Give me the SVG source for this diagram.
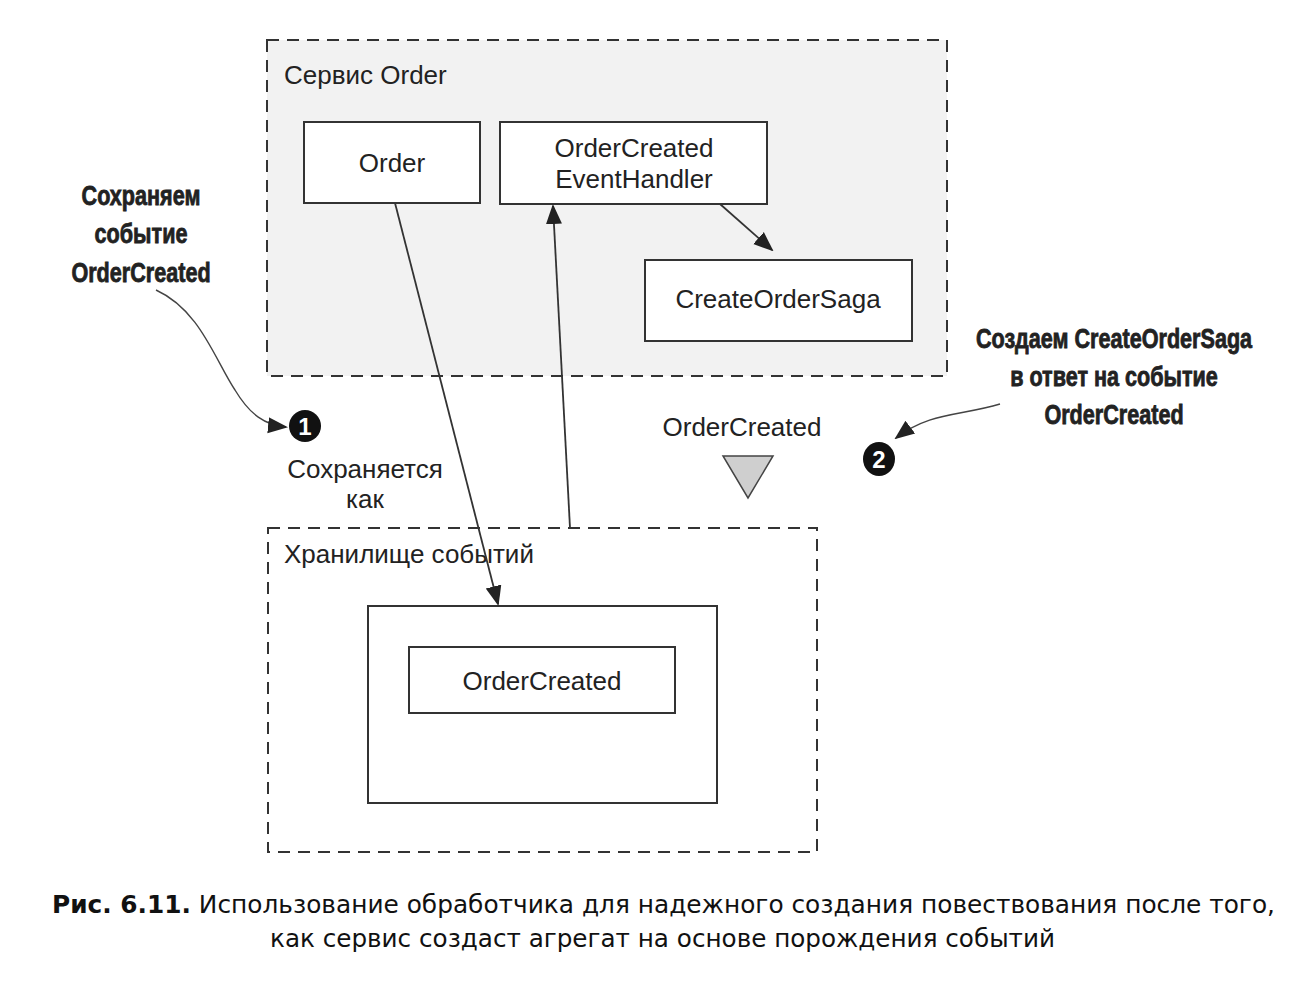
<svg xmlns="http://www.w3.org/2000/svg" width="1316" height="984" viewBox="0 0 1316 984">
<style>
.dash{stroke:#333;stroke-width:2;stroke-dasharray:12 8}
.nofill{fill:none}
.gray{fill:#f2f2f2}
.box{fill:#fff;stroke:#333;stroke-width:2}
.lbl{font-family:"Liberation Sans",Arial,sans-serif;font-size:26px;fill:#222}
.mid{text-anchor:middle}
.call{font-family:"Liberation Sans",Arial,sans-serif;font-weight:bold;font-size:27px;fill:#222;stroke:#222;stroke-width:0.8;text-anchor:middle}
.cap{font-family:"DejaVu Sans",Verdana,sans-serif;font-size:25px;fill:#111}
.conn{fill:none;stroke:#333;stroke-width:1.8}
.curve{fill:none;stroke:#444;stroke-width:1.4}
</style>
<defs>
<marker id="ah2" viewBox="0 0 10 10" refX="9" refY="5" markerWidth="20" markerHeight="20" markerUnits="userSpaceOnUse" orient="auto">
<path d="M0,1 L10,5 L0,9 z" fill="#222"/>
</marker>
</defs>
<rect width="1316" height="984" fill="#fff"/>

<g id="order-service">
<rect x="267" y="40" width="680" height="336" class="dash gray"/>
<text x="284" y="84" class="lbl">Сервис Order</text>
</g>
<g id="order">
<rect x="304" y="122" width="176" height="81" class="box"/>
<text x="392" y="172" class="lbl mid">Order</text>
</g>
<g id="event-handler">
<rect x="500" y="122" width="267" height="82" class="box"/>
<text x="634" y="157" class="lbl mid">OrderCreated</text>
<text x="634" y="188" class="lbl mid">EventHandler</text>
</g>
<g id="saga">
<rect x="645" y="260" width="267" height="81" class="box"/>
<text x="778" y="308" class="lbl mid">CreateOrderSaga</text>
</g>

<g id="event-store">
<rect x="268" y="528" width="549" height="324" class="dash nofill"/>
<text x="284" y="563" class="lbl">Хранилище событий</text>
<rect x="368" y="606" width="349" height="197" class="box"/>
</g>
<g id="stored-event">
<rect x="409" y="647" width="266" height="66" class="box"/>
<text x="542" y="690" class="lbl mid">OrderCreated</text>
</g>

<g id="event-flow">
<text x="742" y="436" class="lbl mid">OrderCreated</text>
<polygon points="723,456 773,456 748,498" fill="#cfcfcf" stroke="#444" stroke-width="1.5"/>
</g>

<g id="saved-as">
<text x="365" y="478" class="lbl mid">Сохраняется</text>
<text x="365" y="508" class="lbl mid">как</text>
</g>

<g id="badge1">
<circle cx="305" cy="426" r="16" fill="#111"/>
<text x="305" y="435" font-family="Liberation Sans,Arial,sans-serif" font-size="24" font-weight="bold" fill="#fff" text-anchor="middle">1</text>
</g>
<g id="badge2">
<ellipse cx="879" cy="459" rx="16" ry="17" fill="#111"/>
<text x="879" y="468" font-family="Liberation Sans,Arial,sans-serif" font-size="24" font-weight="bold" fill="#fff" text-anchor="middle">2</text>
</g>

<g id="callout1" transform="translate(141,0) scale(0.8,1)">
<text x="0" y="205" class="call">Сохраняем</text>
<text x="0" y="243" class="call">событие</text>
<text x="0" y="282" class="call">OrderCreated</text>
</g>
<g id="callout2" transform="translate(1114,0) scale(0.8,1)">
<text x="0" y="348" class="call">Создаем CreateOrderSaga</text>
<text x="0" y="386" class="call">в ответ на событие</text>
<text x="0" y="424" class="call">OrderCreated</text>
</g>

<g id="connectors">
<line x1="395" y1="203" x2="498" y2="604" class="conn" marker-end="url(#ah2)"/>
<line x1="570" y1="528" x2="553" y2="206" class="conn" marker-end="url(#ah2)"/>
<line x1="720" y1="204" x2="772" y2="250" class="conn" marker-end="url(#ah2)"/>
<path d="M156,290 C200,310 215,360 235,390 C250,415 265,425 286,427" class="curve" marker-end="url(#ah2)"/>
<path d="M1000,404 C960,416 930,412 896,438" class="curve" marker-end="url(#ah2)"/>
</g>

<g id="caption">
<text x="52" y="913" class="cap" textLength="1223" lengthAdjust="spacingAndGlyphs"><tspan font-weight="bold">Рис. 6.11.</tspan> Использование обработчика для надежного создания повествования после того,</text>
<text x="270" y="947" class="cap" textLength="785" lengthAdjust="spacingAndGlyphs">как сервис создаст агрегат на основе порождения событий</text>
</g>
</svg>
